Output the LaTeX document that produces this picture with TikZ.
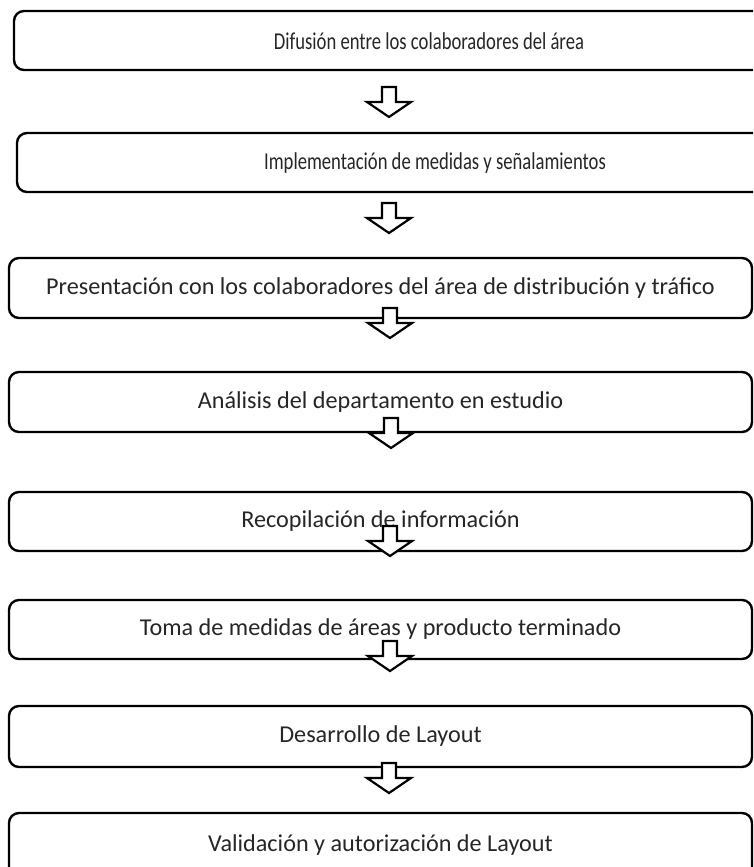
\documentclass[tikz,border=0pt]{standalone}
\usepackage{fontspec}
\setmainfont{Carlito}
\begin{document}
\begin{tikzpicture}[x=1pt,y=-1pt,
  stepbox/.style={draw=black,line width=2.4pt,rounded corners=10pt,fill=white,
    inner sep=0pt,font=\fontsize{24.2}{28}\selectfont,text=black!85},
  toptext/.style={inner sep=0pt,font=\fontsize{24.2}{28}\selectfont,text=black!85,xscale=0.77},
  arrowstyle/.style={draw=black,line width=2.2pt,fill=white,line join=miter},
  downarr/.pic={\draw[arrowstyle] (-7,0) -- (7,0) -- (7,15) -- (22,15) -- (0,30) -- (-22,15) -- (-7,15) -- cycle;}
]
\useasboundingbox (0,0) rectangle (753,867);
\clip (0,0) rectangle (753,867);
\node[stepbox,minimum width=830pt,minimum height=59pt] (b1) at (429,40.5) {};
\node[toptext] (t1) at (429,41.5) {Difusión entre los colaboradores del área};
\node[stepbox,minimum width=836pt,minimum height=59pt] (b2) at (435,162.5) {};
\node[toptext] (t2) at (435,163.5) {Implementación de medidas y señalamientos};
\node[stepbox,minimum width=743pt,minimum height=60pt] (b3) at (380.5,288) {Presentación con los colaboradores del área de distribución y tráfico};
\node[stepbox,minimum width=743pt,minimum height=60pt] (b4) at (380.5,402) {Análisis del departamento en estudio};
\node[stepbox,minimum width=743pt,minimum height=59pt] (b5) at (380.5,521.5) {Recopilación de información};
\node[stepbox,minimum width=743pt,minimum height=59pt] (b6) at (380.5,629.5) {Toma de medidas de áreas y producto terminado};
\node[stepbox,minimum width=743pt,minimum height=61pt] (b7) at (380.5,736.5) {Desarrollo de Layout};
\node[stepbox,minimum width=743pt,minimum height=64pt] (b8) at (380.5,845) {Validación y autorización de Layout};
\coordinate (a1) at (389,87);
\coordinate (a2) at (389,203);
\coordinate (a3) at (390,308);
\coordinate (a4) at (391,418);
\coordinate (a5) at (390,526);
\coordinate (a6) at (390,641);
\coordinate (a7) at (389,763);
\foreach \a in {a1,a2,a3,a4,a5,a6,a7} \pic at (\a) {downarr};
\end{tikzpicture}
\end{document}
